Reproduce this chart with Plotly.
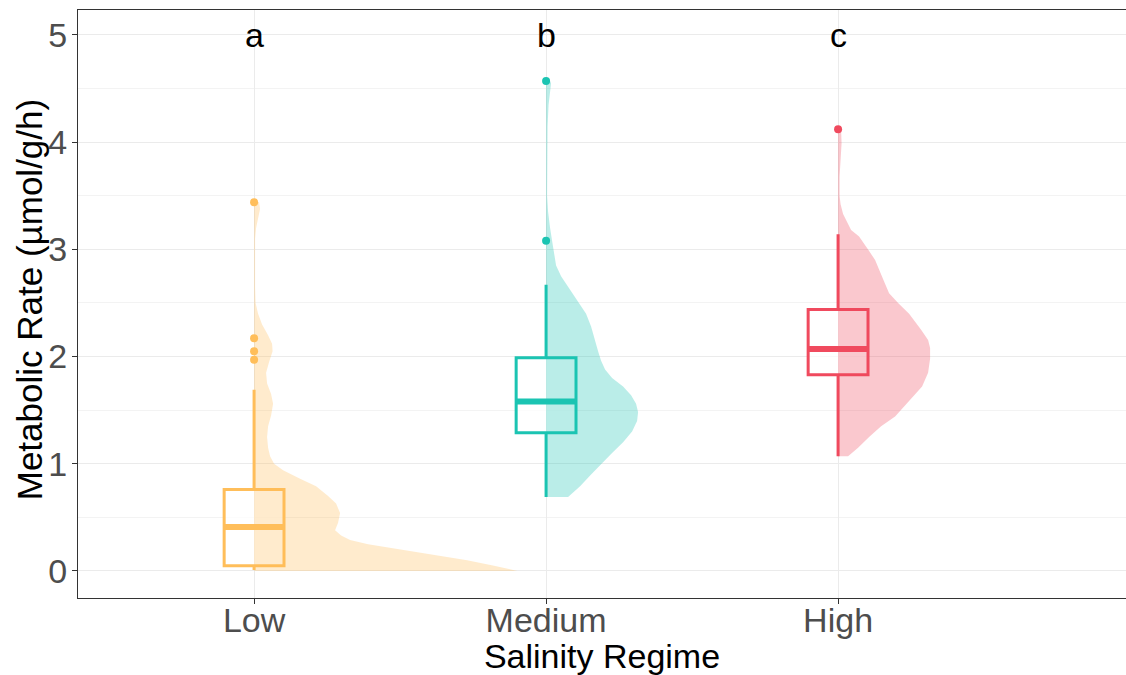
import plotly.graph_objects as go

# ---------------- data ----------------
categories = ["Low", "Medium", "High"]
sig_letters = ["a", "b", "c"]

# box-plot statistics (µmol/g/h)
q1 = [0.05, 1.29, 1.83]
median = [0.41, 1.58, 2.07]
q3 = [0.76, 1.99, 2.44]
lower_whisker = [0.01, 0.69, 1.07]
upper_whisker = [1.69, 2.67, 3.14]

# outliers
low_outliers = [3.44, 2.17, 2.05, 1.97]
medium_outliers = [4.57, 3.08]
high_outliers = [4.12]

# half-violin density profiles (relative density units)
low_violin_y = [0.00, 0.05, 0.10, 0.15, 0.20, 0.25, 0.29, 0.33, 0.38, 0.45, 0.54, 0.63,
                0.70, 0.79, 0.86, 0.94, 1.00, 1.07, 1.15, 1.25, 1.35, 1.45, 1.56, 1.65,
                1.75, 1.85, 1.95, 2.05, 2.12, 2.20, 2.30, 2.40, 2.50, 2.65, 2.90, 3.10,
                3.20, 3.30, 3.38, 3.44]
low_violin_d = [2.63, 2.40, 2.13, 1.80, 1.46, 1.14, 0.96, 0.87, 0.81, 0.84, 0.86, 0.82,
                0.74, 0.62, 0.46, 0.29, 0.20, 0.16, 0.14, 0.13, 0.14, 0.17, 0.19, 0.17,
                0.13, 0.12, 0.15, 0.185, 0.18, 0.14, 0.08, 0.04, 0.015, 0.01, 0.01, 0.01,
                0.02, 0.04, 0.06, 0.05]

medium_violin_y = [0.69, 0.79, 0.90, 1.00, 1.10, 1.20, 1.30, 1.40, 1.48, 1.56, 1.64, 1.72,
                   1.80, 1.88, 1.96, 2.05, 2.15, 2.28, 2.40, 2.53, 2.64, 2.75, 2.85, 2.95,
                   3.08, 3.20, 3.35, 3.50, 3.80, 4.15, 4.35, 4.45, 4.55, 4.57]
medium_violin_d = [0.22, 0.34, 0.45, 0.55, 0.66, 0.77, 0.86, 0.91, 0.92, 0.90, 0.85, 0.77,
                   0.66, 0.59, 0.55, 0.52, 0.49, 0.45, 0.40, 0.31, 0.23, 0.15, 0.10, 0.08,
                   0.06, 0.04, 0.02, 0.01, 0.01, 0.015, 0.025, 0.04, 0.05, 0.04]

high_violin_y = [1.07, 1.15, 1.25, 1.35, 1.44, 1.53, 1.62, 1.72, 1.85, 1.98, 2.08, 2.155,
                 2.25, 2.40, 2.50, 2.59, 2.70, 2.81, 2.90, 3.00, 3.12, 3.18, 3.25, 3.33,
                 3.42, 3.50, 3.68, 3.85, 3.99, 4.12]
high_violin_d = [0.10, 0.20, 0.31, 0.43, 0.57, 0.66, 0.75, 0.84, 0.90, 0.92, 0.92, 0.90,
                 0.83, 0.71, 0.60, 0.51, 0.46, 0.41, 0.37, 0.30, 0.21, 0.13, 0.09, 0.05,
                 0.025, 0.015, 0.015, 0.025, 0.035, 0.03]

violins_y = [low_violin_y, medium_violin_y, high_violin_y]
violins_d = [low_violin_d, medium_violin_d, high_violin_d]
outliers = [low_outliers, medium_outliers, high_outliers]

# ---------------- style ----------------
line_colors = ["rgb(255,190,90)", "rgb(27,196,178)", "rgb(240,74,94)"]
fill_colors = ["rgba(255,190,90,0.30)", "rgba(27,196,178,0.30)", "rgba(240,74,94,0.30)"]
DENSITY_TO_X = 1.0 / 2.92   # category units per density unit
BOX_WIDTH = 0.205
FONT = "Liberation Sans, Arial, sans-serif"

fig = go.Figure()
positions = [1, 2, 3]

# half violins
for i, pos in enumerate(positions):
    ys = violins_y[i]
    ds = violins_d[i]
    xs = [pos + d * DENSITY_TO_X for d in ds] + [pos, pos]
    yy = list(ys) + [ys[-1], ys[0]]
    fig.add_trace(go.Scatter(
        x=xs, y=yy, mode="lines", fill="toself",
        fillcolor=fill_colors[i], line=dict(width=0, color=fill_colors[i]),
        hoverinfo="skip", showlegend=False))

# boxes
for i, pos in enumerate(positions):
    fig.add_trace(go.Box(
        x=[pos], q1=[q1[i]], median=[median[i]], q3=[q3[i]],
        lowerfence=[lower_whisker[i]], upperfence=[upper_whisker[i]],
        width=BOX_WIDTH, whiskerwidth=0, boxpoints=False,
        fillcolor="rgba(255,255,255,0.70)",
        line=dict(color=line_colors[i], width=3),
        hoverinfo="skip", showlegend=False))
    # thicker median bar
    fig.add_trace(go.Scatter(
        x=[pos - BOX_WIDTH / 2, pos + BOX_WIDTH / 2], y=[median[i], median[i]],
        mode="lines", line=dict(color=line_colors[i], width=6),
        hoverinfo="skip", showlegend=False))
    # outliers
    fig.add_trace(go.Scatter(
        x=[pos] * len(outliers[i]), y=outliers[i], mode="markers",
        marker=dict(color=line_colors[i], size=8, line=dict(width=0)),
        hoverinfo="skip", showlegend=False))

# significance letters
for i, pos in enumerate(positions):
    fig.add_annotation(x=pos, y=5.0, text=sig_letters[i], showarrow=False,
                       xanchor="center", yanchor="middle",
                       font=dict(family=FONT, size=34, color="black"))

# y-axis title (placed as annotation for precise position)
fig.add_annotation(x=-0.0468, y=0.508, xref="paper", yref="paper",
                   text="Metabolic Rate (µmol/g/h)", textangle=-90, showarrow=False,
                   xanchor="center", yanchor="middle",
                   font=dict(family=FONT, size=35, color="black"))

fig.update_layout(
    width=1126, height=675,
    margin=dict(l=78, r=0, t=10, b=77),
    paper_bgcolor="white", plot_bgcolor="white",
    showlegend=False,
    font=dict(family=FONT),
)
fig.update_xaxes(
    range=[0.397, 3.986], tickvals=positions, ticktext=categories,
    showgrid=True, gridcolor="#EBEBEB", gridwidth=1.2,
    showline=True, linecolor="#333333", linewidth=1.1, mirror=True,
    ticks="outside", ticklen=5, tickcolor="#333333", tickwidth=1.1,
    ticklabelstandoff=-13,
    tickfont=dict(family=FONT, size=34, color="#4D4D4D"),
    title=dict(text="Salinity Regime", font=dict(family=FONT, size=34, color="black"), standoff=10),
    zeroline=False,
)
fig.update_yaxes(
    range=[-0.252, 5.233], tickvals=[0, 1, 2, 3, 4, 5],
    showgrid=True, gridcolor="#EBEBEB", gridwidth=1.2,
    minor=dict(dtick=0.5, tick0=0, showgrid=True, gridcolor="#F3F3F3", gridwidth=0.8),
    showline=True, linecolor="#333333", linewidth=1.1, mirror=False,
    ticks="outside", ticklen=5, tickcolor="#333333", tickwidth=1.1,
    ticklabelstandoff=-2,
    tickfont=dict(family=FONT, size=34, color="#4D4D4D"),
    zeroline=False,
)

fig.write_html("out.html")
